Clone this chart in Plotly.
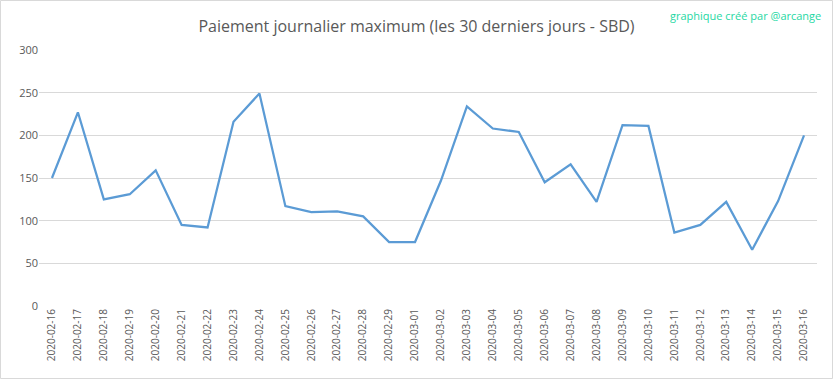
import plotly.graph_objects as go

dates = ["2020-02-16", "2020-02-17", "2020-02-18", "2020-02-19", "2020-02-20",
         "2020-02-21", "2020-02-22", "2020-02-23", "2020-02-24", "2020-02-25",
         "2020-02-26", "2020-02-27", "2020-02-28", "2020-02-29", "2020-03-01",
         "2020-03-02", "2020-03-03", "2020-03-04", "2020-03-05", "2020-03-06",
         "2020-03-07", "2020-03-08", "2020-03-09", "2020-03-10", "2020-03-11",
         "2020-03-12", "2020-03-13", "2020-03-14", "2020-03-15", "2020-03-16"]
max_payout = [150, 227, 125, 131, 159, 95, 92, 216, 249, 117,
              110, 111, 105, 75, 75, 147, 234, 208, 204, 145,
              166, 122, 212, 211, 86, 95, 122, 66, 123, 200]
y_ticks = [0, 50, 100, 150, 200, 250, 300]

W, H = 833, 379
ml, mr, mt, mb = 39, 16, 50, 73
pw, ph = W - ml - mr, H - mt - mb

fig = go.Figure()
fig.add_trace(go.Scatter(
    x=dates, y=max_payout, mode="lines",
    line=dict(color="#5B9BD5", width=2.25),
    hoverinfo="x+y",
))

fig.update_layout(
    width=W, height=H,
    margin=dict(l=ml, r=mr, t=mt, b=mb),
    paper_bgcolor="white", plot_bgcolor="white",
    showlegend=False,
    font=dict(family="Open Sans, sans-serif", color="#595959"),
    title=dict(
        text="Paiement journalier maximum (les 30 derniers jours - SBD)",
        x=0.5, xanchor="center", y=1 - 26 / H, yanchor="middle",
        font=dict(size=16, color="#595959"),
    ),
    xaxis=dict(
        type="category", range=[-0.5, len(dates) - 0.5],
        tickangle=-90, tickfont=dict(size=10, color="#595959"),
        showgrid=False, zeroline=False, showline=False,
        ticks="", ticklen=0,
    ),
    yaxis=dict(
        range=[0, 300], tickvals=y_ticks,
        tickfont=dict(size=11, color="#595959"),
        showgrid=True, gridcolor="#D9D9D9", gridwidth=1,
        zeroline=False, showline=False, ticks="",
    ),
    annotations=[dict(
        text="graphique créé par @arcange", xref="paper", yref="paper",
        x=(823 - ml) / pw, y=1 + (mt - 15) / ph, xanchor="right", yanchor="middle",
        showarrow=False, font=dict(size=11, color="#1ED8A3"),
    )],
    shapes=[dict(
        type="rect", xref="paper", yref="paper",
        x0=(0.5 - ml) / pw, x1=(W - 0.5 - ml) / pw,
        y0=-(mb - 0.5) / ph, y1=1 + (mt - 0.5) / ph,
        line=dict(color="#D9D9D9", width=1), layer="below",
    )],
)

fig.write_html(
    "out.html",
    config={"displayModeBar": False},
    post_script="document.body.style.margin='0';document.body.style.overflow='hidden';",
)
